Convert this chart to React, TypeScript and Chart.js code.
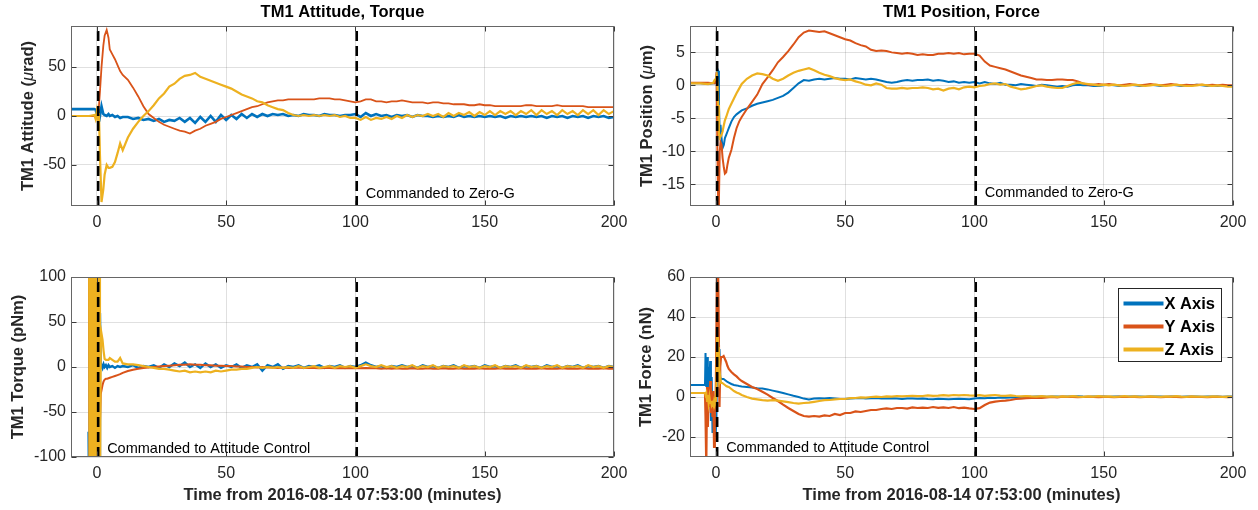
import React, { useEffect, useRef } from 'react';
import { Chart, registerables } from 'chart.js';

Chart.register(...registerables);

const BLUE = '#0072BD';
const RED = '#D95319';
const YELLOW = '#EDB120';
const FONT = '"Liberation Sans", Arial, Helvetica, sans-serif';

// ---------------- data ----------------
const seriesNames = ['X Axis', 'Y Axis', 'Z Axis'];
const eventTimes = [0.5, 100.5];
const panelTitles = ['TM1 Attitude, Torque', 'TM1 Position, Force'];
const xAxisTitle = 'Time from 2016-08-14 07:53:00 (minutes)';
const annotations = ['Commanded to Zero-G', 'Commanded to Attitude Control'];

// shared sample times after the transients (minutes)
const tailTimes = [
  12, 14, 16, 18, 20, 22, 24, 26, 28, 30,
  32, 34, 36, 38, 40, 42, 44, 46, 48, 50,
  52, 54, 56, 58, 60, 62, 64, 66, 68, 70,
  72, 74, 76, 78, 80, 82, 84, 86, 88, 90,
  92, 94, 96, 98, 100, 102, 104, 106, 108, 110,
  112, 114, 116, 118, 120, 122, 124, 126, 128, 130,
  132, 134, 136, 138, 140, 142, 144, 146, 148, 150,
  152, 154, 156, 158, 160, 162, 164, 166, 168, 170,
  172, 174, 176, 178, 180, 182, 184, 186, 188, 190,
  192, 194, 196, 198, 200,
];

// ---- Attitude (µrad) ----
const attHeadTimes = [-10, -6, -3, -1, -0.5, 0, 0.4, 0.8, 1.2, 1.8, 2.5, 3, 3.8, 4.5, 5, 6, 7, 8, 9, 10];
const attX = [
  7, 7, 7, 7, 6.5, 2, -2, 4, 0, 10, 2, 1, 0, 2, 0, 1, -1, 0, -2, -1,
  -1, -3, -2, -4, -3, -5, -3, -6, -4, -5,
  -2, -6, -2, -7, -1, -6, 0, -6, 1, -4,
  1, -3, 2, -2, 2, -1, 2, 0, 2, 1,
  2, 0, 1, 0, 2, 1, 1, 0, 2, 1,
  1, 0, 1, 1, 2, -1, 3, 0, 2, 0,
  1, -1, 1, 0, 1, -1, 1, 0, 0, -1,
  0, -1, 0, -1, 1, -1, 0, -1, 0, -1,
  0, -1, 0, -2, 0, -1, 0, -1, 0, -1,
  0, -2, 0, -1, 0, -2, 0, -1, 0, -2,
  0, -1, 0, -2, -1,
];
const attY = [
  0, 0, 0, 0, 0, 0, 2, 10, 25, 50, 72, 82, 88, 80, 68, 63, 58, 52, 46, 42,
  37, 29, 20, 10, 2, -2, -6, -9, -11, -13,
  -15, -16, -18, -15, -13, -10, -8, -6, -3, -1,
  1, 3, 5, 7, 9, 10, 12, 14, 15, 16,
  16, 17, 17, 17, 17, 17, 17, 18, 18, 18,
  17, 17, 16, 15, 14, 15, 17, 17, 15, 15,
  14, 15, 15, 16, 15, 14, 14, 14, 13, 14,
  14, 13, 13, 12, 12, 12, 11, 11, 12, 11,
  11, 10, 10, 10, 10, 10, 10, 11, 11, 10,
  10, 10, 10, 11, 10, 10, 10, 10, 10, 9,
  9, 9, 9, 9, 9,
];
const attZ = [
  0, 0, 0, 1, -3, 5, -4, 3, -40, -88, -75, -60, -50, -53, -53, -52, -47, -38, -28, -35,
  -22, -13, -6, 0, 5, 11, 18, 23, 30, 33,
  38, 41, 42, 44, 40, 38, 36, 34, 32, 30,
  28, 25, 22, 20, 18, 15, 14, 11, 9, 7,
  6, 3, 1, 0, 1, 0, 1, 0, 1, 0,
  1, -1, 0, -2, -2, -4, -1, -4, -2, -3,
  -1, -3, 0, -2, 1, -1, 1, 0, 2, 0,
  2, -1, 3, 0, 3, 1, 4, 0, 4, 1,
  5, 1, 5, 2, 5, 1, 5, 2, 6, 1,
  6, 2, 5, 1, 6, 2, 5, 1, 6, 2,
  6, 1, 6, 2, 5,
];

// ---- Position (µm) ----
const posHeadTimes = [-10, -6, -3, -1, -0.5, 0, 0.3, 0.6, 0.9, 1.2, 1.5, 1.8, 2.2, 2.6, 3.1, 3.5, 4, 4.5, 5, 6, 7, 8, 9, 10];
const posX = [
  0.3, 0.3, 0.2, 0.3, 0.3, 0.5, 1.5, 2.5, 2.2, -3, -7.5, -6, -8, -9.5, -9, -8, -7.5, -7, -6.5, -5.5, -4.8, -4.4, -4.1, -3.8,
  -3.5, -3.1, -2.8, -2.6, -2.4, -2.2, -1.9, -1.6, -1.1, -0.4,
  0.3, 0.8, 0.7, 0.9, 1.0, 0.9, 1.0, 1.1, 1.0, 1.0,
  0.9, 1.1, 1.0, 0.9, 1.0, 0.9, 0.7, 0.5, 0.4, 0.5,
  0.7, 0.8, 0.7, 0.8, 0.8, 0.9, 0.7, 0.8, 0.7, 0.5,
  0.6, 0.4, 0.5, 0.4, 0.5, 0.3, 0.5, 0.3, 0.2, 0.4,
  0.1, 0.1, 0.0, 0.2, 0.1, 0.0, -0.1, 0.1, 0.0, -0.1,
  -0.2, -0.1, -0.2, 0.0, 0.1, 0.0, 0.0, -0.1, -0.1, 0.0,
  0.1, 0.0, -0.1, 0.0, 0.1, 0.0, -0.1, 0.0, 0.1, 0.0,
  -0.1, 0.0, 0.1, 0.0, -0.1, 0.0, 0.0, 0.1, 0.0, -0.1,
  0.0, -0.1, 0.0, -0.1, -0.1,
];
const posY = [
  0.4, 0.4, 0.4, 0.3, 0.3, 0.5, 2, -10, -18, -17, -10, -8.6, -9, -11, -12.5, -13.4, -13.2, -12, -11, -9.8, -8, -6.5, -5.5, -4.8,
  -3.6, -2.5, -1.4, 0.2, 1.2, 2.3, 3.5, 4.3, 5.2, 6.2,
  7.3, 8.0, 8.3, 8.2, 8.1, 8.2, 7.9, 7.6, 7.3, 7.0,
  6.8, 6.4, 6.1, 5.9, 5.4, 5.2, 5.3, 5.2, 5.0, 4.9,
  4.8, 4.9, 4.8, 4.6, 4.7, 4.6, 4.6, 4.8, 4.8, 4.9,
  4.8, 4.9, 4.7, 4.8, 4.8, 4.5, 3.6, 3.0, 2.8, 2.6,
  2.4, 2.1, 1.8, 1.5, 1.3, 1.1, 0.9, 0.9, 0.8, 0.8,
  0.9, 0.9, 0.8, 0.8, 0.6, 0.3, 0.1, 0.1, 0.2, 0.1,
  0.2, 0.1, 0.0, 0.1, 0.2, 0.1, 0.0, 0.1, 0.2, 0.1,
  0.0, 0.1, 0.2, 0.1, 0.0, 0.1, 0.0, 0.1, 0.1, 0.0,
  0.1, 0.0, 0.1, 0.0, 0.0,
];
const posZ = [
  0.3, 0.3, 0.2, 0.4, 0.8, 1.0, 1.5, 0.5, -3, -7.5, -8, -7.8, -7.5, -7, -6, -5.3, -4.8, -4.2, -3.6, -2.8, -2, -1.2, -0.5, 0.2,
  1.0, 1.5, 1.8, 1.7, 1.5, 1.0, 0.7, 1.0, 1.5, 1.9,
  2.2, 2.4, 2.6, 2.3, 1.9, 1.6, 1.4, 1.1, 0.9, 0.8,
  0.9, 0.6, 0.4, 0.1, 0.0, 0.3, 0.1, -0.4, -0.5, -0.5,
  -0.4, -0.5, -0.4, -0.4, -0.3, -0.4, -0.6, -0.5, -0.8, -0.5,
  -0.4, -0.6, -0.3, -0.2, -0.3, -0.1, 0.0, 0.2, 0.3, 0.1,
  0.2, -0.2, -0.4, -0.6, -0.5, -0.3, -0.1, 0.0, -0.2, -0.3,
  -0.4, -0.4, -0.1, 0.2, 0.4, 0.3, 0.2, 0.1, 0.0, 0.1,
  0.0, 0.1, 0.0, -0.1, 0.0, 0.1, 0.0, -0.1, 0.0, 0.1,
  0.0, -0.1, 0.0, 0.1, 0.0, -0.1, -0.1, 0.0, 0.1, 0.0,
  -0.1, 0.0, -0.1, -0.2, -0.2,
];

// ---- Torque (pNm) ----
const torHeadTimes = [
  -3.2, -3, -2.8, -2.6, -2.4, -2.2, -2, -1.8, -1.6, -1.4, -1.2, -1, -0.8, -0.6, -0.4, -0.2, 0, 0.2, 0.4, 0.6, 0.8, 1, 1.2,
  1.5, 1.8, 2.2, 2.6, 3, 3.5, 4, 4.5, 5, 6, 7, 8, 9, 10,
];
const torX = [
  -72, -150, 120, -130, 110, -120, 100, -130, 120, -110, 130, -120, 110, -130, 120, -110, 130, -120, 110, -130, 120, -100, 60,
  0, 2, -1, 3, 0, 2, -1, 2, 0, 1, -1, 1, 0, 1,
  0, 2, -1, 1, 0, 2, -1, 3, 0, 4,
  1, 5, 0, 3, -1, 4, 0, 3, -1, 2,
  0, 3, -1, 2, 0, 3, -4, 2, 0, 3,
  -2, 1, 0, 2, -1, 1, 0, 2, -1, 1,
  0, 2, -1, 1, 0, 2, 5, 2, 0, 1,
  -1, 1, 0, 2, 0, 1, -1, 2, 0, 1,
  -1, 1, 0, 2, -1, 1, 0, 1, -1, 2,
  0, 1, -1, 1, 0, 2, -1, 1, 0, 1,
  -1, 2, 0, 1, -1, 1, 0, 2, -1, 1,
  0, 1, -1, 1, 0,
];
const torY = [
  null, 100, -120, 110, -100, 120, -110, 100, -120, 110, -100, 120, -110, 100, -120, 110, -100, 120, -110, 100, -120, 110, -60,
  -30, -26, -20, -16, -14, -13, -13, -12.5, -12, -11, -10, -9, -8, -6.5,
  -4.5, -3, -2, -1, -0.5, 0, 0.5, 1, 1.5, 2,
  2.5, 2.5, 3, 2.5, 2.5, 2, 2, 1.5, 1.5, 1,
  1, 0.5, 0.5, 0, 0, -0.5, 0, -0.5, -0.5, -1,
  -0.5, -1, -1, -0.5, -1, -1, -1, -1.5, -1, -1,
  -1.5, -1, -1.5, -1.5, -1, -1.5, -1, -1.5, -1.5, -2,
  -1.5, -2, -1.5, -2, -2, -1.5, -2, -2, -1.5, -2,
  -2, -1.5, -2, -2, -1.5, -2, -2, -2, -1.5, -2,
  -2, -2, -1.5, -2, -2, -2, -1.5, -2, -2, -2,
  -1.5, -2, -2, -2, -1.5, -2, -2, -2, -1.5, -2,
  -2, -2, -1.5, -2, -2,
];
const torZ = [
  null, 160, -150, 150, -160, 140, -150, 160, -140, 150, -160, 150, -140, 160, -150, 140, -160, 150, -150, 160, -140, 150, -150,
  20, 37, 30, 18, 9, 8, 8, 8, 10, 8, 6, 6, 10, 4,
  3, 3, 2, 1, 0, -1, -2, -2, -3, -4,
  -5, -4, -6, -5, -6, -5, -6, -4, -5, -4,
  -3, -3, -2, -2, -1, 0, -1, 0, -1, 0,
  -1, 0, -1, 1, -1, 0, 1, -1, 0, 1,
  -1, 1, 0, 1, -1, 1, 3, 1, 0, 2,
  0, 1, -1, 1, 0, 2, -1, 1, 0, 2,
  -1, 1, 0, 1, -1, 2, 0, 1, -1, 1,
  0, 2, -1, 1, 0, 1, -1, 2, 0, 1,
  -1, 1, 0, 2, -1, 1, 0, 1, -1, 2,
  0, 1, -1, 1, 0,
];

// ---- Force (nN) ----
const forHeadTimes = [
  -10, -6,
  -4.2, -4.0, -3.7, -3.4, -3.1, -2.8, -2.5, -2.2, -1.9, -1.6, -1.3, -1.0, -0.7, -0.4, -0.1, 0.2, 0.5, 0.8, 1.1, 1.4, 1.7, 2.0,
  2.5, 3, 3.5, 4, 4.5, 5, 6, 7, 8, 9, 10,
];
const forX = [
  6, 6,
  6, 22, 5, 20, 0, 15, 8, 18, -12, 10, -18, -5, -15, -10, -20, -12, 20, 25, 15, 24, 10, 9,
  9, 9, 8.5, 8, 7.5, 7.2, 6.5, 6, 5.8, 5.5, 5.3,
  5.0, 4.7, 4.4, 4.2, 3.8, 3.2, 2.6, 2.0, 1.3, 0.6,
  0.0, -0.8, -1.2, -0.8, -0.6, -0.8, -0.5, -0.7, -1.0, -1.0,
  -0.8, -0.6, -0.5, -0.8, -0.6, -0.5, -0.7, -0.8, -0.6, -0.8,
  -1.0, -0.8, -0.7, -0.9, -0.8, -1.0, -1.1, -0.9, -1.0, -1.1,
  -1.0, -0.9, -1.0, -1.1, -0.8, -0.5, -0.6, -0.4, -0.5, -0.3,
  -0.4, -0.2, -0.3, 0.0, 0.2, 0.1, 0.3, 0.2, 0.1, 0.3,
  0.2, 0.1, 0.3, 0.2, 0.4, 0.2, 0.1, 0.3, 0.2, 0.3,
  0.1, 0.2, 0.3, 0.1, 0.2, 0.3, 0.2, 0.1, 0.2, 0.3,
  0.2, 0.1, 0.3, 0.2, 0.1, 0.2, 0.3, 0.2, 0.1, 0.2,
  0.3, 0.2, 0.1, 0.3, 0.2,
];
const forY = [
  2, 2,
  2, -10, -35, 5, -15, 0, -5, 8, -8, 2, -10, 3, -25, 0, -5, 30, 65, 70, 40, -5, 15, 20,
  20, 20.5, 19, 17.5, 15.5, 14, 12.5, 11.3, 10.3, 9, 8,
  6.5, 5.0, 4.0, 2.6, 1.2, -0.5, -2.0, -3.8, -5.5, -7.0,
  -8.5, -9.5, -9.8, -9.5, -9.8, -9.2, -9.5, -8.5, -9.0, -8.0,
  -8.0, -7.2, -7.5, -7.0, -6.5, -6.5, -6.0, -5.7, -6.0, -5.5,
  -5.5, -5.8, -5.2, -5.5, -5.3, -5.5, -5.0, -5.4, -5.2, -5.5,
  -5.0, -5.6, -5.3, -5.7, -6.0, -5.6, -4.0, -2.8, -2.3, -2.0,
  -1.8, -1.5, -1.0, -0.8, -0.6, -0.5, -0.3, -0.4, -0.2, 0.0,
  -0.2, 0.2, 0.0, 0.1, -0.1, 0.0, 0.1, 0.0, -0.1, 0.1,
  0.0, -0.1, 0.1, 0.0, 0.0, 0.1, -0.1, 0.0, 0.1, 0.0,
  -0.1, 0.0, 0.1, 0.0, -0.1, 0.0, 0.1, 0.0, 0.0, -0.1,
  0.0, 0.1, 0.0, -0.1, 0.0,
];
const forZ = [
  2, 2,
  2, 1, 2, -2, 1, -3, 0, -3, -2, -4, -3, -4, -2, -4, -3, 5, 30, 12, 25, 8, 10, 7,
  7, 6.5, 6, 5.5, 5.2, 5, 4, 3, 2.3, 1.7, 1.0,
  0.0, -0.8, -1.2, -1.6, -1.8, -1.6, -1.8, -2.2, -2.6, -3.0,
  -3.3, -3.0, -2.8, -2.4, -2.0, -1.6, -1.5, -1.2, -1.0, -1.0,
  -0.6, -0.5, -0.2, -0.3, 0.0, 0.2, 0.0, 0.3, 0.2, 0.5,
  0.3, 0.5, 0.6, 0.4, 0.5, 0.8, 0.6, 0.7, 0.9, 0.7,
  1.0, 0.8, 1.0, 0.8, 0.7, 0.9, 0.6, 0.8, 1.0, 0.7,
  0.6, 0.8, 0.5, 0.3, 0.5, 0.3, 0.2, 0.4, 0.2, 0.3,
  0.1, 0.3, 0.2, 0.4, 0.2, 0.1, 0.3, 0.2, 0.4, 0.2,
  0.3, 0.1, 0.2, 0.4, 0.2, 0.3, 0.1, 0.2, 0.3, 0.2,
  0.1, 0.3, 0.2, 0.4, 0.2, 0.1, 0.3, 0.2, 0.2, 0.1,
  0.3, 0.2, 0.1, 0.2, 0.1,
];

// ---------------- panel setup (layout / style) ----------------
type Panel = {
  times: number[];
  x: (number | null)[];
  y: (number | null)[];
  z: (number | null)[];
  yMin: number; yMax: number; yStep: number;
  title?: string;
  yTitle: { text: string; italic?: boolean }[];
  xTitle?: string;
  annotation: string;
  annotationEvent: number;
  left: number; top: number; w: number; h: number;
  padTop: number; padRight: number; yWidth: number; xHeight: number;
  yTitleOff: number; annDy: number;
  blueWidth: number; redWidth: number;
  legend?: boolean;
};

const panels: Panel[] = [
  {
    times: attHeadTimes.concat(tailTimes), x: attX, y: attY, z: attZ,
    yMin: -92, yMax: 92, yStep: 50,
    title: panelTitles[0],
    yTitle: [{ text: 'TM1 Attitude (' }, { text: 'μ', italic: true }, { text: 'rad)' }],
    annotation: annotations[0], annotationEvent: eventTimes[1],
    left: 0, top: 0, w: 640, h: 235, padTop: 26, padRight: 26, yWidth: 71, xHeight: 29,
    yTitleOff: 43, annDy: 12, blueWidth: 2.6, redWidth: 1.8,
  },
  {
    times: posHeadTimes.concat(tailTimes), x: posX, y: posY, z: posZ,
    yMin: -18.3, yMax: 9, yStep: 5,
    title: panelTitles[1],
    yTitle: [{ text: 'TM1 Position (' }, { text: 'μ', italic: true }, { text: 'm)' }],
    annotation: annotations[0], annotationEvent: eventTimes[1],
    left: 630, top: 0, w: 628, h: 235, padTop: 26, padRight: 25, yWidth: 60, xHeight: 29,
    yTitleOff: 43, annDy: 13, blueWidth: 2, redWidth: 2,
  },
  {
    times: torHeadTimes.concat(tailTimes), x: torX, y: torY, z: torZ,
    yMin: -100, yMax: 100, yStep: 50,
    yTitle: [{ text: 'TM1 Torque (pNm)' }],
    xTitle: xAxisTitle,
    annotation: annotations[1], annotationEvent: eventTimes[0],
    left: 0, top: 235, w: 640, h: 275, padTop: 42, padRight: 26, yWidth: 71, xHeight: 53,
    yTitleOff: 53, annDy: 8, blueWidth: 2.4, redWidth: 2,
  },
  {
    times: forHeadTimes.concat(tailTimes), x: forX, y: forY, z: forZ,
    yMin: -30, yMax: 60, yStep: 20,
    yTitle: [{ text: 'TM1 Force (nN)' }],
    xTitle: xAxisTitle,
    annotation: annotations[1], annotationEvent: eventTimes[0],
    left: 630, top: 235, w: 628, h: 275, padTop: 42, padRight: 25, yWidth: 60, xHeight: 53,
    yTitleOff: 44, annDy: 9, blueWidth: 2, redWidth: 2.2,
    legend: true,
  },
];

const seriesColors = [BLUE, RED, YELLOW];

function decorPlugin(p: Panel) {
  return {
    id: 'decor',
    afterDraw(chart: any) {
      const { ctx, chartArea: a, scales } = chart;
      const xs = scales.x;
      const ys = scales.y;
      ctx.save();
      const L = Math.round(a.left) + 0.5;
      const R = Math.round(a.right) - 0.5;
      const T = Math.round(a.top) + 0.5;
      const B = Math.round(a.bottom) - 0.5;
      // inner tick marks
      ctx.strokeStyle = '#3a3a3a';
      ctx.lineWidth = 1;
      ctx.beginPath();
      for (const t of xs.ticks) {
        const px = Math.round(xs.getPixelForValue(t.value)) + 0.5;
        ctx.moveTo(px, B); ctx.lineTo(px, B - 5);
        ctx.moveTo(px, T); ctx.lineTo(px, T + 5);
      }
      for (const t of ys.ticks) {
        const py = Math.round(ys.getPixelForValue(t.value)) + 0.5;
        ctx.moveTo(L, py); ctx.lineTo(L + 5, py);
        ctx.moveTo(R, py); ctx.lineTo(R - 5, py);
      }
      ctx.stroke();
      // box
      ctx.strokeStyle = '#666666';
      ctx.strokeRect(L, T, R - L, B - T);

      const midX = (a.left + a.right) / 2;
      const midY = (a.top + a.bottom) / 2;
      // title
      if (p.title) {
        ctx.fillStyle = '#000';
        ctx.font = `bold 16.5px ${FONT}`;
        ctx.textAlign = 'center';
        ctx.textBaseline = 'middle';
        ctx.fillText(p.title, midX, a.top - 14);
      }
      // x axis title
      if (p.xTitle) {
        ctx.fillStyle = '#262626';
        ctx.font = `bold 16.5px ${FONT}`;
        ctx.textAlign = 'center';
        ctx.textBaseline = 'middle';
        ctx.fillText(p.xTitle, midX, a.bottom + 38);
      }
      // y axis title (rotated, mixed fonts)
      ctx.save();
      ctx.translate(a.left - p.yTitleOff, midY);
      ctx.rotate(-Math.PI / 2);
      ctx.fillStyle = '#262626';
      ctx.textBaseline = 'middle';
      ctx.textAlign = 'left';
      const runFont = (r: { italic?: boolean }) => (r.italic ? `italic 16.5px ${FONT}` : `bold 16.5px ${FONT}`);
      let total = 0;
      for (const r of p.yTitle) { ctx.font = runFont(r); total += ctx.measureText(r.text).width; }
      let cx = -total / 2;
      for (const r of p.yTitle) {
        ctx.font = runFont(r);
        ctx.fillText(r.text, cx, 0);
        cx += ctx.measureText(r.text).width;
      }
      ctx.restore();
      // annotation
      ctx.fillStyle = '#000';
      ctx.font = `14.5px ${FONT}`;
      ctx.textAlign = 'left';
      ctx.textBaseline = 'middle';
      ctx.fillText(p.annotation, xs.getPixelForValue(p.annotationEvent) + 9, a.bottom - p.annDy);
      // legend
      if (p.legend) {
        const bx = Math.round(a.right - 115) + 0.5;
        const by = Math.round(a.top + 11) + 0.5;
        const bw = 103, bh = 73;
        ctx.fillStyle = '#fff';
        ctx.fillRect(bx, by, bw, bh);
        ctx.strokeStyle = '#262626';
        ctx.lineWidth = 1;
        ctx.strokeRect(bx, by, bw, bh);
        const rows = [15, 38, 61];
        seriesNames.forEach((name, i) => {
          const ry = by + rows[i];
          ctx.strokeStyle = seriesColors[i];
          ctx.lineWidth = 4;
          ctx.beginPath();
          ctx.moveTo(bx + 5, ry);
          ctx.lineTo(bx + 45, ry);
          ctx.stroke();
          ctx.fillStyle = '#000';
          ctx.font = `bold 16.5px ${FONT}`;
          ctx.textAlign = 'left';
          ctx.textBaseline = 'middle';
          ctx.fillText(name, bx + 46, ry + 1);
        });
      }
      ctx.restore();
    },
  };
}

function PanelChart({ p }: { p: Panel }) {
  const ref = useRef<HTMLCanvasElement>(null);
  useEffect(() => {
    const canvas = ref.current;
    if (!canvas) return;
    const mk = (vals: (number | null)[]) => p.times.map((t, i) => ({ x: t, y: vals[i] }));
    const line = (data: any, color: string, order: number, width: number) => ({
      data, borderColor: color, backgroundColor: color, borderWidth: width,
      pointRadius: 0, tension: 0, order, fill: false, spanGaps: false,
    });
    const datasets: any[] = [
      ...eventTimes.map((e) => ({
        data: [{ x: e, y: p.yMin }, { x: e, y: p.yMax }],
        borderColor: '#000', borderWidth: 2.6, borderDash: [10, 5],
        pointRadius: 0, order: 0, fill: false,
      })),
      line(mk(p.z), YELLOW, 1, 2.2),
      line(mk(p.y), RED, 2, p.redWidth),
      line(mk(p.x), BLUE, 3, p.blueWidth),
    ];
    const tickFont = { family: FONT, size: 16 };
    const gridColor = 'rgba(38,38,38,0.14)';
    const chart = new Chart(canvas, {
      type: 'line',
      data: { datasets },
      options: {
        animation: false,
        responsive: false,
        devicePixelRatio: 1,
        events: [],
        layout: { padding: { left: 0, right: p.padRight, top: p.padTop, bottom: 0 } },
        plugins: {
          legend: { display: false },
          tooltip: { enabled: false },
          title: { display: false },
        },
        scales: {
          x: {
            type: 'linear', min: -10, max: 200,
            ticks: { stepSize: 50, includeBounds: false, font: tickFont, color: '#262626', padding: 7, maxRotation: 0, autoSkip: false },
            grid: { color: gridColor, lineWidth: 1, drawTicks: false },
            border: { display: false },
            afterFit: (s: any) => { s.height = p.xHeight; },
          },
          y: {
            type: 'linear', min: p.yMin, max: p.yMax,
            ticks: { stepSize: p.yStep, includeBounds: false, font: tickFont, color: '#262626', padding: 5 },
            grid: { color: gridColor, lineWidth: 1, drawTicks: false },
            border: { display: false },
            afterFit: (s: any) => { s.width = p.yWidth; },
          },
        },
      } as any,
      plugins: [decorPlugin(p)],
    });
    return () => chart.destroy();
  }, [p]);
  return (
    <canvas
      ref={ref}
      width={p.w}
      height={p.h}
      style={{ position: 'absolute', left: p.left, top: p.top, width: p.w, height: p.h }}
    />
  );
}

export default function App() {
  return (
    <div style={{ position: 'absolute', left: 0, top: 0, width: 1258, height: 510, background: '#fff', overflow: 'hidden' }}>
      {panels.map((p, i) => (
        <PanelChart key={i} p={p} />
      ))}
    </div>
  );
}
